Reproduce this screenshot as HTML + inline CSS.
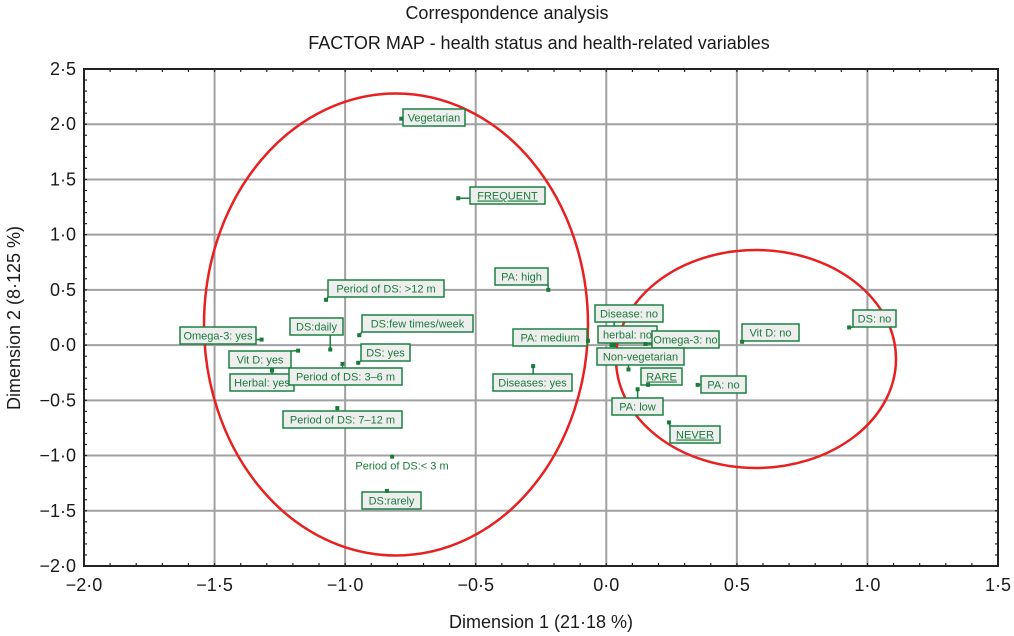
<!DOCTYPE html>
<html><head><meta charset="utf-8"><style>
body{margin:0;background:#fff;}
svg{display:block;font-family:"Liberation Sans",sans-serif;}
</style></head><body>
<svg id="c" width="1014" height="636" viewBox="0 0 1014 636"></svg>
<script>
const labels=["Vegetarian","FREQUENT","PA: high","Period of DS: >12 m","DS:daily","DS:few times/week","Omega-3: yes","Vit D: yes","Herbal: yes","Period of DS: 3–6 m","DS: yes","Period of DS: 7–12 m","Period of DS:< 3 m","DS:rarely","Disease: no","herbal: no","Omega-3: no","PA: medium","Non-vegetarian","RARE","PA: low","PA: no","NEVER","Diseases: yes","Vit D: no","DS: no"];
const dim1=[-0.785,-0.567,-0.222,-1.073,-1.057,-0.946,-1.32,-1.18,-1.28,-1.01,-0.95,-1.03,-0.82,-0.84,0.03,0.02,0.15,-0.07,0.085,0.16,0.12,0.35,0.24,-0.28,0.52,0.93];
const dim2=[2.05,1.33,0.50,0.41,-0.04,0.09,0.05,-0.05,-0.23,-0.17,-0.16,-0.57,-1.01,-1.32,0.00,0.00,0.01,0.04,-0.22,-0.36,-0.40,-0.36,-0.70,-0.19,0.03,0.16];
const xTicks=[-2.0,-1.5,-1.0,-0.5,0,0.5,1.0,1.5];
const yTicks=[-2.0,-1.5,-1.0,-0.5,0,0.5,1.0,1.5,2.0,2.5];
// label box layout (pixel positions, not data): [left, top, width, boxed, underline]
const boxes=[[403,109,62,1,0],[470,187,75,1,1],[495,268,53,1,0],[328,280,116,1,0],[290,318,53,1,0],[362,315,111,1,0],[180,327,76,1,0],[229,351,62,1,0],[230,374,64,1,0],[289,368,113,1,0],[361,344,49,1,0],[283,411,119,1,0],[354,457,96,0,0],[362,492,59,1,0],[595,305,68,1,0],[598,326,59,1,0],[652,331,67,1,0],[513,329,74,1,0],[597,348,87,1,0],[641,368,41,1,1],[612,398,51,1,0],[701,376,45,1,0],[670,426,50,1,1],[493,374,79,1,0],[742,324,57,1,0],[853,310,43,1,0]];
const X0=84,X1=998,Y0=69,Y1=566;
const xs=v=>X0+(v+2)/3.5*(X1-X0);
const ys=v=>Y1-(v+2)/4.5*(Y1-Y0);
const svg=document.getElementById('c');
const NS='http://www.w3.org/2000/svg';
function mk(t,a,p){const e=document.createElementNS(NS,t);for(const k in a)e.setAttribute(k,a[k]);(p||svg).appendChild(e);return e;}
const fmt=v=>(v<0?'−':'')+Math.abs(v).toFixed(1).replace('.','·');
let t=mk('text',{x:507,y:19,'text-anchor':'middle','font-size':18,fill:'#1a1a1a'});t.textContent='Correspondence analysis';

t=mk('text',{x:539,y:49,'text-anchor':'middle','font-size':18,fill:'#1a1a1a'});t.textContent='FACTOR MAP - health status and health-related variables';

const grid=mk('g',{});
xTicks.forEach(v=>{if(v>-2&&v<1.5)mk('line',{x1:xs(v),x2:xs(v),y1:Y0,y2:Y1,stroke:'#a0a0a0','stroke-width':2},grid);
 const l=mk('text',{x:xs(v),y:591,'text-anchor':'middle','font-size':18,fill:'#1a1a1a'});l.textContent=fmt(v);
 });
yTicks.forEach(v=>{if(v>-2&&v<2.5)mk('line',{x1:X0,x2:X1,y1:ys(v),y2:ys(v),stroke:'#a0a0a0','stroke-width':2},grid);
 const l=mk('text',{x:76,y:ys(v)+6,'text-anchor':'end','font-size':18,fill:'#1a1a1a'});l.textContent=fmt(v);
 });
const mt=mk('g',{stroke:'#222','stroke-width':1.2});
for(let i=1;i<35;i++){const x=xs(-2+i*0.1);mk('line',{x1:x,x2:x,y1:Y1,y2:Y1-3},mt);mk('line',{x1:x,x2:x,y1:Y0,y2:Y0+3},mt);}
for(let i=1;i<45;i++){const y=ys(-2+i*0.1);mk('line',{x1:X0,x2:X0+3,y1:y,y2:y},mt);mk('line',{x1:X1,x2:X1-3,y1:y,y2:y},mt);}
const fr=mk('rect',{x:X0,y:Y0,width:X1-X0,height:Y1-Y0,fill:'none',stroke:'#222','stroke-width':2});

t=mk('text',{x:541,y:628,'text-anchor':'middle','font-size':18,fill:'#1a1a1a'});t.textContent='Dimension 1 (21·18 %)';

t=mk('text',{x:20,y:318,'text-anchor':'middle','font-size':18,fill:'#1a1a1a',transform:'rotate(-90 20 318)'});t.textContent='Dimension 2 (8·125 %)';

let e=mk('ellipse',{cx:396,cy:324.5,rx:192,ry:231,fill:'none',stroke:'#e82020','stroke-width':2.5});

e=mk('ellipse',{cx:756,cy:359,rx:140,ry:109,fill:'none',stroke:'#e82020','stroke-width':2.5});

labels.forEach((lab,i)=>{
 const px=xs(dim1[i]),py=ys(dim2[i]);const b=boxes[i];
 const g=mk('g',{});
 
 
 const bx=b[0],by=b[1],bw=b[2],bh=17;
 const cx=Math.max(bx,Math.min(bx+bw,px)),cy=Math.max(by,Math.min(by+bh,py));
 mk('line',{x1:px,y1:py,x2:cx,y2:cy,stroke:'#1a8040','stroke-width':1.5},g);
 if(b[3])mk('rect',{x:bx,y:by,width:bw,height:bh,fill:'#eeeeee',stroke:'#1a8040','stroke-width':1.5},g);
 const tx=mk('text',{x:bx+bw/2,y:by+12.5,'text-anchor':'middle','font-size':11,fill:'#1a7a3a','text-decoration':b[4]?'underline':'none'},g);
 tx.textContent=lab;
 mk('rect',{x:px-2,y:py-2,width:4,height:4,fill:'#1a7a3a'},g);
});
</script>
</body></html>
